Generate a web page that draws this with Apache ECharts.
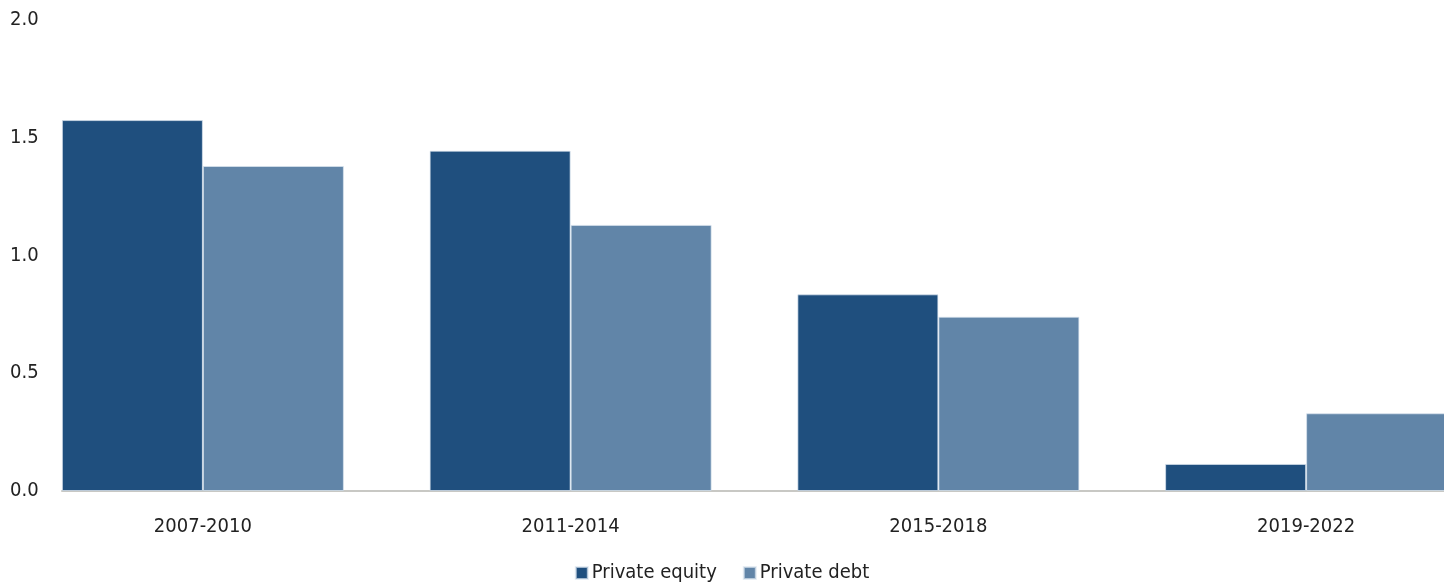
<!DOCTYPE html>
<html>
<head>
<meta charset="utf-8">
<script src="https://cdn.jsdelivr.net/npm/echarts@6/dist/echarts.min.js"></script>
<style>
  html, body { margin: 0; padding: 0; background: #fff; }
  #chart { width: 1444px; height: 583px; }
</style>
</head>
<body>
<div id="chart"></div>
<script>
// periods on the x axis
var periods = ['2007-2010', '2011-2014', '2015-2018', '2019-2022'];
// series values
var privateEquity = [1.575, 1.445, 0.835, 0.115];
var privateDebt = [1.38, 1.13, 0.74, 0.33];
// y axis ticks
var yTicks = [0, 0.5, 1.0, 1.5, 2.0];

var font = '"DejaVu Sans Condensed", "Liberation Sans Narrow", sans-serif';

var option = {
    animation: false,
    textStyle: { fontFamily: font },
    legend: {
        bottom: -5,
        left: 'center',
        itemWidth: 12,
        itemHeight: 12,
        itemGap: 26,
        icon: 'rect',
        textStyle: { fontFamily: font, fontSize: 20, color: '#222', padding: [0, 0, 0, -1] },
        data: ['Private equity', 'Private debt']
    },
    grid: [
        { left: 19, right: -46, top: 20, bottom: 92, outerBoundsMode: 'none' },
        // only used to draw the base line from the first bar edge
        { left: 62, right: 0, top: 20, bottom: 92, outerBoundsMode: 'none' }
    ],
    xAxis: [
        {
            type: 'category',
            data: periods,
            gridIndex: 0,
            axisLine: { show: false },
            axisTick: { show: false },
            axisLabel: { fontFamily: font, fontSize: 20, color: '#222', margin: 26 }
        },
        {
            type: 'value',
            gridIndex: 1,
            min: 0,
            max: 1,
            axisLine: { show: true, lineStyle: { color: '#c8c8c4', width: 2 } },
            axisTick: { show: false },
            axisLabel: { show: false },
            splitLine: { show: false }
        }
    ],
    yAxis: [
        {
            type: 'value',
            gridIndex: 0,
            min: yTicks[0],
            max: yTicks[yTicks.length - 1],
            interval: 0.5,
            axisLine: { show: false },
            axisTick: { show: false },
            splitLine: { show: false },
            axisLabel: {
                fontFamily: font,
                fontSize: 20,
                color: '#222',
                align: 'left',
                verticalAlign: 'middle',
                margin: 9,
                padding: [5, 0, 0, 0],
                formatter: function (v) { return v.toFixed(1); }
            }
        },
        {
            type: 'value',
            gridIndex: 1,
            min: 0,
            max: 1,
            show: false
        }
    ],
    series: [
        {
            name: 'Private equity',
            type: 'bar',
            xAxisIndex: 0,
            yAxisIndex: 0,
            data: privateEquity,
            barWidth: 141,
            barGap: '0%',
            z: 3,
            itemStyle: { color: '#1f4f7e', borderColor: 'rgba(220,230,240,0.7)', borderWidth: 1 }
        },
        {
            name: 'Private debt',
            type: 'bar',
            xAxisIndex: 0,
            yAxisIndex: 0,
            data: privateDebt,
            barWidth: 141,
            barGap: '0%',
            z: 3,
            itemStyle: { color: '#6185a8', borderColor: 'rgba(220,230,240,0.7)', borderWidth: 1 }
        }
    ]
};

var chart = echarts.init(document.getElementById('chart'));
chart.setOption(option);
</script>
</body>
</html>
